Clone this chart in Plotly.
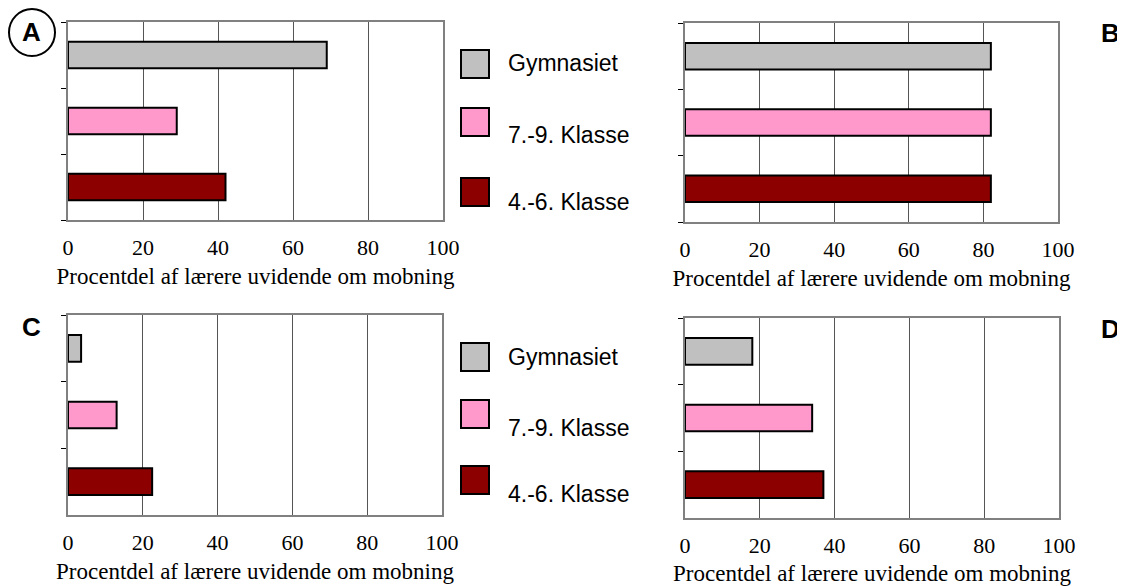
import plotly.graph_objects as go

# the page body adds an 8px margin, so the figure is drawn 8px in from the corner
OFF = 8
W, H = 1125 - OFF, 586 - OFF

categories = ["4.-6. Klasse", "7.-9. Klasse", "Gymnasiet"]
legend_order = ["Gymnasiet", "7.-9. Klasse", "4.-6. Klasse"]
colors = {"Gymnasiet": "#C0C0C0", "7.-9. Klasse": "#FF99CC", "4.-6. Klasse": "#8C0000"}

values_A = [42, 29, 69]
values_B = [82, 82, 82]
values_C = [22.5, 13, 3.5]
values_D = [37, 34, 18]

x_ticks = [0, 20, 40, 60, 80, 100]
axis_title = "Procentdel af lærere uvidende om mobning"
panel_letters = ["A", "B", "C", "D"]

# panel pixel boxes in window pixels: (left, right, top, bottom)
boxes = [(68, 443, 22, 220), (685, 1058, 23, 222), (68, 442, 315, 515), (685, 1059, 318, 518)]
panel_values = [values_A, values_B, values_C, values_D]

def px(x):
    return (x - OFF) / W

def py(y):
    return 1 - (y - OFF) / H

fig = go.Figure()

for i, (vals, box) in enumerate(zip(panel_values, boxes)):
    n = "" if i == 0 else str(i + 1)
    fig.add_trace(go.Bar(
        x=vals, y=categories, orientation="h", width=0.4,
        marker=dict(color=[colors[c] for c in categories], line=dict(color="black", width=2)),
        xaxis="x" + n, yaxis="y" + n, showlegend=False, hoverinfo="x+y",
    ))
    l, r, t, b = box
    fig.layout["xaxis" + n] = dict(
        domain=[px(l), px(r)], anchor="y" + n, range=[0, 100],
        tickvals=x_ticks, ticks="outside", ticklen=7, tickcolor="rgba(0,0,0,0)",
        tickfont=dict(family="Liberation Serif", size=22, color="black"),
        showgrid=True, gridcolor="#555555", gridwidth=1,
        showline=True, linecolor="#808080", linewidth=2, mirror=True,
        zeroline=False, fixedrange=True, automargin=False,
        title=dict(text=axis_title, font=dict(family="Liberation Serif", size=23, color="black"), standoff=8),
    )
    fig.layout["yaxis" + n] = dict(
        domain=[py(b), py(t)], anchor="x" + n, type="category",
        categoryorder="array", categoryarray=categories, range=[-0.5, 2.5],
        showticklabels=False, ticks="outside", tickson="boundaries", ticklen=5,
        tickcolor="black", tickwidth=1,
        showline=True, linecolor="#808080", linewidth=2, mirror=True,
        showgrid=False, zeroline=False, fixedrange=True, automargin=False,
    )

shapes = []
annotations = []

# legends
legend_sets = [
    [(50, 78, 63), (108, 136, 135), (178, 206, 202)],
    [(343, 371, 357), (400, 428, 428), (466, 494, 494)],
]
for items in legend_sets:
    for name, (t, b, ty) in zip(legend_order, items):
        shapes.append(dict(type="rect", xref="paper", yref="paper",
                           x0=px(461), x1=px(489), y0=py(b), y1=py(t),
                           fillcolor=colors[name], line=dict(color="black", width=2)))
        annotations.append(dict(text=name, xref="paper", yref="paper", x=px(506), y=py(ty),
                                xanchor="left", yanchor="middle", showarrow=False,
                                font=dict(family="Liberation Sans", size=23, color="black")))

# panel letters
letter_pos = [(31, 32), (1110, 33), (31, 327), (1110, 329)]
for letter, (lx, ly) in zip(panel_letters, letter_pos):
    annotations.append(dict(text="<b>" + letter + "</b>", xref="paper", yref="paper",
                            x=px(lx), y=py(ly), xanchor="center", yanchor="middle", showarrow=False,
                            font=dict(family="Liberation Sans", size=26, color="black")))
shapes.append(dict(type="circle", xref="paper", yref="paper",
                   x0=px(9), x1=px(55), y0=py(56), y1=py(9),
                   line=dict(color="black", width=2)))

fig.update_layout(
    width=W, height=H, margin=dict(l=0, r=0, t=0, b=0),
    paper_bgcolor="white", plot_bgcolor="white",
    shapes=shapes, annotations=annotations, showlegend=False,
    bargap=0.6,
)

fig.write_html("out.html")
